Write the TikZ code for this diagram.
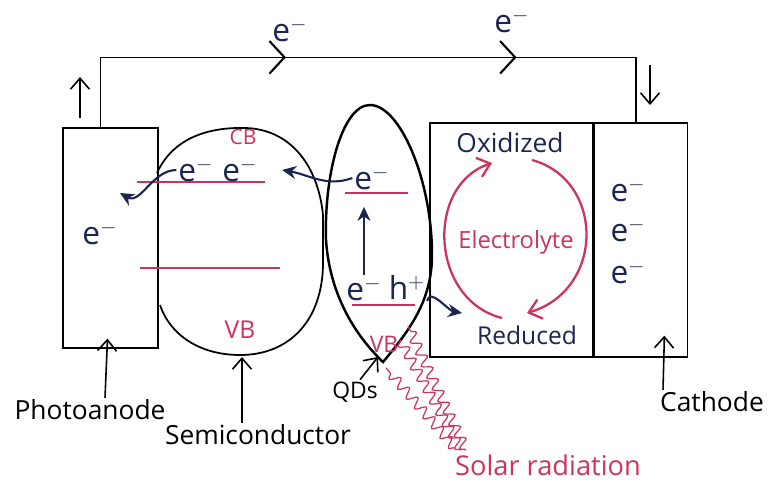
\documentclass[tikz,border=0pt]{standalone}
\usepackage{fontspec}
\setmainfont{Open Sans}
\usetikzlibrary{arrows.meta,positioning,calc,decorations.pathmorphing,decorations.markings}
\definecolor{ink}{RGB}{28,36,80}
\definecolor{rose}{RGB}{204,52,92}

\begin{document}
\begin{tikzpicture}[
  x=0.02cm, y=-0.02cm,
  font=\fontsize{14}{16}\selectfont,
  plate/.style={draw, line width=0.8pt, inner sep=0pt},
  band/.style={rose, line width=0.9pt},
  lbl/.style={text=ink, inner sep=1pt},
  pinklbl/.style={text=rose, inner sep=1pt, font=\fontsize{11}{13}\selectfont},
  elec/.style={text=ink, font=\fontsize{18}{20}\selectfont, inner sep=1pt},
  tag/.style={text=black, inner sep=1pt, font=\fontsize{15}{17}\selectfont},
  flow/.style={-{Stealth[length=2.8mm, width=2.6mm]}, ink, line width=1.2pt},
  pointer/.style={-{Straight Barb[length=2.2mm, width=3.8mm]}, line width=0.9pt},
  turn/.style={-{Straight Barb[length=2.4mm, width=4mm]}, rose, line width=1.3pt},
  ray/.style={rose, line width=0.7pt, decorate, decoration={snake, amplitude=1mm, segment length=2.6mm}}
]
\useasboundingbox (0,0) rectangle (773,487);

% cell plates
\node[plate, minimum width=1.9cm, minimum height=4.4cm] (anode) at (110.5,238) {};
\node[plate, minimum width=3.26cm, minimum height=4.68cm] (electrolyte) at (511.5,240) {};
\node[plate, minimum width=1.86cm, minimum height=4.68cm, anchor=west] (cathode) at (electrolyte.east) {};

% outer circuit
\coordinate (wa) at ($(anode.north)+(-10,0)$);
\coordinate (wc) at ($(cathode.north)+(-5,0)$);
\draw[line width=0.9pt, postaction={decorate}, decoration={markings,
    mark=at position 0.381 with {\arrow{Straight Barb[length=3mm, width=6.5mm, line width=1.2pt]}},
    mark=at position 0.725 with {\arrow{Straight Barb[length=3mm, width=6.5mm, line width=1.2pt]}}}]
  (wa) -- ++(0,-70) -| (wc);
\node[elec] (wire1) at (290,30) {e$^-$};
\node[elec] (wire2) at (512,21) {e$^-$};
\coordinate (up1) at (80,118); \coordinate (up2) at (80,77);
\coordinate (dn1) at (650,65); \coordinate (dn2) at (650,105);
\draw[pointer] (up1) -- (up2);
\draw[pointer] (dn1) -- (dn2);

% semiconductor
\draw[line width=1pt] (157,173) .. controls (172,140) and (205,127) .. (245,128)
  .. controls (290,129) and (318,165) .. (323,215) -- (323,265)
  .. controls (322,320) and (290,355) .. (240,355)
  .. controls (200,355) and (170,335) .. (160,305);
\draw[band] (137,182) -- (265,182);
\draw[band] (140,268) -- (280,268);
\node[pinklbl, font=\fontsize{12}{14}\selectfont] (cb) at (243,137) {CB};
\node[pinklbl, font=\fontsize{14}{16}\selectfont] (vb) at (240,330) {VB};
\node[elec] (sce1) at (196,170) {e$^-$};
\node[elec] (sce2) at (240,170) {e$^-$};
\node[elec] (anodee) at (100,233) {e$^-$};

% quantum dot
\draw[line width=1.4pt] (370,105) .. controls (342,105) and (324,175) .. (326,240)
  .. controls (330,300) and (360,340) .. (383,362)
  .. controls (410,330) and (432,300) .. (432,255)
  .. controls (432,180) and (400,105) .. (370,105);
\draw[band] (345,193) -- (408,193);
\draw[band] (352,305) -- (415,305);
\node[elec] (qde) at (372,178) {e$^-$};
\node[elec] (qdeb) at (364,289) {e$^-$};
\node[elec] (qdh) at (407,287) {h$^+$};
\node[pinklbl, font=\fontsize{13}{15}\selectfont] (qdvb) at (384,344) {VB};

% electron and hole transfer
\coordinate (ain) at (120,193);
\coordinate (hout) at (462,313);
\draw[flow] (sce1.west) to[out=180, in=330] (ain);
\draw[flow] (qde.west) to[out=200, in=350] ([xshift=0.45cm]sce2.east);
\draw[flow, shorten >=0.3cm] (qdeb.north) -- (qdeb.north |- qde.south);
\draw[flow] (qdh.south east) to[out=80, in=170] (hout);

% redox cycle
\node[lbl, font=\fontsize{15}{17}\selectfont] (ox) at (510,143) {Oxidized};
\node[pinklbl, font=\fontsize{13.5}{15}\selectfont] (elyte) at (516,242) {Electrolyte};
\node[lbl] (red) at (527,335) {Reduced};
\coordinate (l1) at (502,318); \coordinate (l2) at (492,163);
\coordinate (r1) at (532,160); \coordinate (r2) at (527,313);
\draw[turn] (l1) .. controls (430,300) and (425,185) .. (l2);
\draw[turn] (r1) .. controls (605,180) and (605,290) .. (r2);

\foreach \y in {190,230,272}
  \node[elec] at (628,\y) {e$^-$};

% solar radiation
\foreach \xa/\ya/\xb/\yb in {466/450/408/326, 461/450/400/340, 455/448/386/368}
  \draw[ray] (\xa,\ya) -- (\xb,\yb);

% labels
\node[tag] (lanode) at (90,410) {Photoanode};
\node[tag] (lsemi) at (258,435) {Semiconductor};
\node[tag, font=\fontsize{13}{15}\selectfont] (lqd) at (355,392) {QDs};
\node[tag] (lcath) at (712,402) {Cathode};
\node[pinklbl, font=\fontsize{15.5}{17}\selectfont] (lsolar) at (548,465) {Solar radiation};
\coordinate (sbot) at (242,357);
\coordinate (qbot) at (378,357);
\draw[pointer] (lanode.north -| 105,0) -- ($(anode.south)+(-3,-10)$);
\draw[pointer] (lsemi.north -| 242,0) -- (sbot);
\draw[pointer] ([xshift=0.1cm]lqd.north) -- (qbot);
\draw[pointer] (lcath.north -| 663,0) -- ($(cathode.south)+(23.5,-22)$);
\end{tikzpicture}
\end{document}
